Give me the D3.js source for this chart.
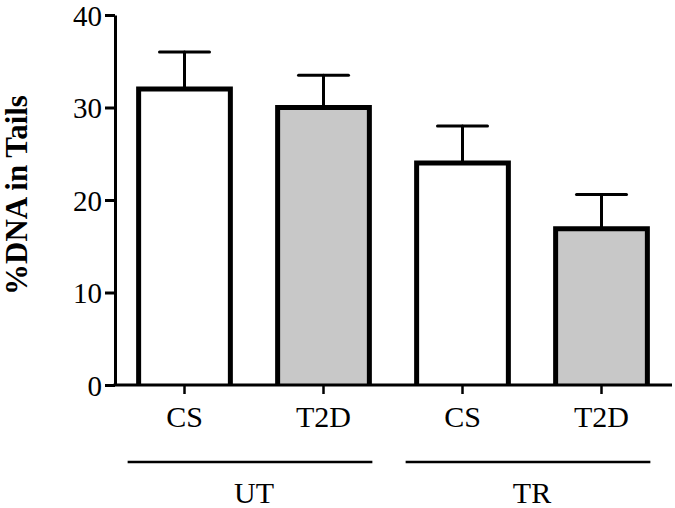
<!DOCTYPE html>
<html>
<head>
<meta charset="utf-8">
<script src="https://cdn.jsdelivr.net/npm/d3@7"></script>
<style>
  html, body { margin: 0; padding: 0; background: #fff; }
  svg { display: block; }
  text { font-family: "Liberation Serif", "Times New Roman", serif; fill: #000; }
</style>
</head>
<body>
<svg id="chart" width="675" height="508"></svg>
<script>
// Data
const categories = ["UT-CS", "UT-T2D", "TR-CS", "TR-T2D"];
const categoryLabels = ["CS", "T2D", "CS", "T2D"];
const groups = ["UT", "TR"];
const groupMembers = [["UT-CS", "UT-T2D"], ["TR-CS", "TR-T2D"]];
const means = [32, 30, 24, 16.9];
const errors = [4.0, 3.5, 4.0, 3.7];
const fills = ["#ffffff", "#c8c8c8", "#ffffff", "#c8c8c8"];
const yTicks = [0, 10, 20, 30, 40];
const yLabel = "%DNA in Tails";

const svg = d3.select("#chart");
const x = d3.scaleBand().domain(categories).range([115, 671]).paddingInner(0.34).paddingOuter(0.17);
const y = d3.scaleLinear().domain([0, 40]).range([385, 15]);

const data = categories.map((c, i) => ({ c, label: categoryLabels[i], m: means[i], e: errors[i], fill: fills[i] }));

// Bars
const bw = x.bandwidth();
const bars = svg.append("g");
bars.selectAll("rect").data(data).join("rect")
  .attr("x", d => x(d.c)).attr("y", d => y(d.m))
  .attr("width", bw).attr("height", d => y(0) - y(d.m))
  .attr("fill", d => d.fill);

// Error bars
const capW = 50;
const eb = svg.append("g").attr("stroke", "#000").attr("stroke-width", 3).attr("stroke-linecap", "round");
eb.selectAll("line.v").data(data).join("line").attr("class", "v")
  .attr("x1", d => x(d.c) + bw / 2).attr("x2", d => x(d.c) + bw / 2)
  .attr("y1", d => y(d.m)).attr("y2", d => y(d.m + d.e));
eb.selectAll("line.h").data(data).join("line").attr("class", "h")
  .attr("x1", d => x(d.c) + bw / 2 - capW / 2).attr("x2", d => x(d.c) + bw / 2 + capW / 2)
  .attr("y1", d => y(d.m + d.e)).attr("y2", d => y(d.m + d.e));

// Bar outlines (open at bottom)
bars.selectAll("path").data(data).join("path")
  .attr("d", d => {
    const x0 = x(d.c), x1 = x(d.c) + bw, yt = y(d.m), yb = y(0);
    return `M${x0},${yb}L${x0},${yt}L${x1},${yt}L${x1},${yb}`;
  })
  .attr("fill", "none").attr("stroke", "#000").attr("stroke-width", 5)
  .attr("stroke-linejoin", "miter");

// Y axis
const yAxis = svg.append("g").attr("transform", "translate(115,0)")
  .call(d3.axisLeft(y).tickValues(yTicks).tickSize(10).tickPadding(3).tickSizeOuter(0));
yAxis.select(".domain").attr("stroke", "#000").attr("stroke-width", 3);
yAxis.selectAll(".tick line").attr("stroke", "#000").attr("stroke-width", 3);
yAxis.selectAll(".tick text").attr("font-size", 29).attr("dy", "0.36em")
  .attr("font-family", "Liberation Serif, serif");

// X axis
const xAxis = svg.append("g").attr("transform", "translate(0,385)")
  .call(d3.axisBottom(x).tickSize(9).tickSizeOuter(0).tickFormat((d, i) => categoryLabels[i]).tickPadding(12));
xAxis.select(".domain").attr("stroke", "#000").attr("stroke-width", 3).attr("d", "M113.5,0H672");
xAxis.selectAll(".tick line").attr("stroke", "#000").attr("stroke-width", 2.5);
xAxis.selectAll(".tick text").attr("font-size", 30).attr("font-family", "Liberation Serif, serif")
  .attr("dy", null).attr("y", 42);

// Group lines and labels
const gx = groupMembers.map(m => [x(m[0]) - 11, x(m[1]) + bw + 3]);
svg.append("g").selectAll("line").data(groups).join("line")
  .attr("x1", (d, i) => gx[i][0]).attr("x2", (d, i) => gx[i][1])
  .attr("y1", 462).attr("y2", 462)
  .attr("stroke", "#000").attr("stroke-width", 2.5);
svg.append("g").selectAll("text").data(groups).join("text")
  .attr("x", (d, i) => (x(groupMembers[i][0]) + x(groupMembers[i][1]) + bw) / 2)
  .attr("y", 503).attr("text-anchor", "middle").attr("font-size", 30).text(d => d);

// Y label
svg.append("text").attr("transform", "translate(27,195) rotate(-90)")
  .attr("text-anchor", "middle").attr("font-size", 31).attr("font-weight", "bold").text(yLabel);
</script>
</body>
</html>
